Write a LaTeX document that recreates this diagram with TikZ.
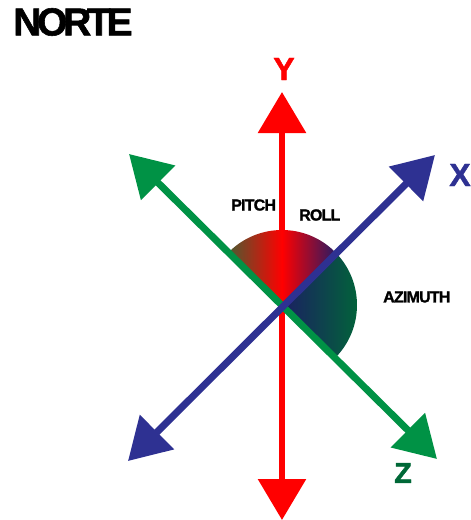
\documentclass[tikz,border=0pt]{standalone}
\usepackage{fontspec}
\usepackage{xcolor}
\usetikzlibrary{arrows.meta}
\newfontfamily\titlefont[LetterSpace=-11,FakeBold=1.5]{Liberation Sans Bold}
\newfontfamily\labelfont[LetterSpace=-5,FakeBold=1.5]{Liberation Sans Bold}
\definecolor{axisred}{HTML}{FF0000}
\definecolor{axisgreen}{HTML}{009245}
\definecolor{axisblue}{HTML}{2E3192}
\definecolor{darkgreen}{HTML}{006837}
\definecolor{darknavy}{HTML}{1B1F62}
\definecolor{darkolive}{HTML}{4E5A30}
\definecolor{darkviolet}{HTML}{2C1A62}
\tikzset{
  axisline/.style={line width=7pt,{Triangle[length=41pt,width=47pt]}-{Triangle[length=41pt,width=47pt]}},
  anglelabel/.style={inner sep=0pt,font=\labelfont\fontsize{16}{16}\selectfont},
  axislabel/.style={inner sep=0pt,font=\labelfont\fontsize{32}{32}\selectfont}
}
\begin{document}
\begin{tikzpicture}[x=1pt,y=1pt]
  \useasboundingbox (-282,-215) rectangle (189,305);
  \coordinate (origin) at (0,0);
  \coordinate (ytop) at (0,213);
  \coordinate (ybottom) at (0,-215);
  \coordinate (xtop) at (153,150);
  \coordinate (xbottom) at (-154,-156);
  \coordinate (ztop) at (-153,151);
  \coordinate (zbottom) at (155,-154);
  \draw[axisline,axisred,line width=6pt] (ybottom)--(ytop);
  \shade[left color=darkolive,right color=darkviolet,middle color=axisred]
    (origin)--(135:75) arc[start angle=135,end angle=45,radius=75]--cycle;
  \shade[left color=darknavy,right color=darkgreen]
    (origin)--(45:75) arc[start angle=45,end angle=-45,radius=75]--cycle;
  \draw[axisline,axisgreen] (zbottom)--(ztop);
  \draw[axisline,axisblue] (xbottom)--(xtop);
  \node[anchor=west,font=\titlefont\fontsize{39}{39}\selectfont,inner sep=0pt] (norte) at (-269,283) {NORTE};
  \node[axislabel,axisred] (ylabel) at (2,236) {Y};
  \node[axislabel,axisblue] (xlabel) at (178,130) {X};
  \node[axislabel,darkgreen,font=\labelfont\fontsize{29}{29}\selectfont] (zlabel) at (121,-168) {Z};
  \node[anchor=west,anglelabel] (pitch) at (-51,100) {PITCH};
  \node[anchor=west,anglelabel] (roll) at (17,90) {ROLL};
  \node[anchor=west,anglelabel] (azimuth) at (101,8) {AZIMUTH};
\end{tikzpicture}
\end{document}
